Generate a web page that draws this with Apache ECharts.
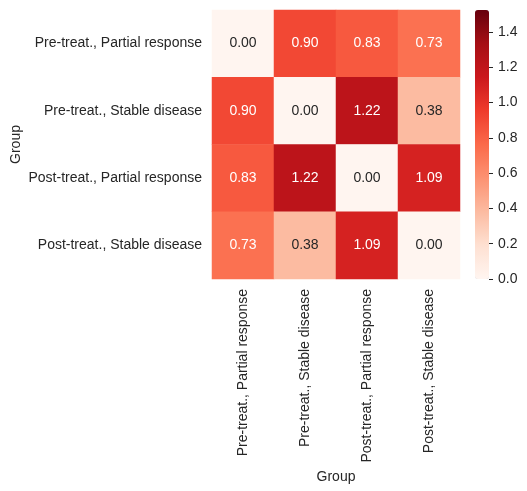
<!DOCTYPE html>
<html><head><meta charset="utf-8">
<script src="https://cdn.jsdelivr.net/npm/echarts@6/dist/echarts.min.js"></script>
<style>html,body{margin:0;padding:0;background:#fff}#c{width:527px;height:491px}</style>
</head><body><div id="c"></div>
<script>
const groups = ['Pre-treat., Partial response','Pre-treat., Stable disease','Post-treat., Partial response','Post-treat., Stable disease'];
const row0 = [0.00, 0.90, 0.83, 0.73];
const row1 = [0.90, 0.00, 1.22, 0.38];
const row2 = [0.83, 1.22, 0.00, 1.09];
const row3 = [0.73, 0.38, 1.09, 0.00];
const tickMax = 1.4, tickStep = 0.2;
const vmin = 0, vmax = 1.525;
const reds = ['#fff5f0','#fee0d2','#fcbba1','#fc9272','#fb6a4a','#ef3b2c','#cb181d','#a50f15','#67000d'];
const FONT = 'Liberation Sans, Arial, sans-serif';
const TXT = '#262626';

const rows = [row0,row1,row2,row3];
const data = [];
rows.forEach((r, yi) => r.forEach((v, xi) => {
  data.push({value:[xi, yi, v], label:{color: v > 0.6 ? '#ffffff' : TXT}});
}));

const barTop = 10, barH = 269;
const axH = barH * (tickMax - vmin) / (vmax - vmin);

const chart = echarts.init(document.getElementById('c'));
chart.setOption({
  animation:false,
  textStyle:{fontFamily:FONT},
  grid:[
    {left:212, top:10, width:248, height:269},
    {left:475, top:barTop + barH - axH, width:14, height:axH}
  ],
  xAxis:[
    {type:'category', data:groups, gridIndex:0,
     axisLine:{show:false}, axisTick:{show:false}, splitLine:{show:false},
     axisLabel:{rotate:90, color:TXT, fontSize:14, margin:10, fontFamily:FONT},
     name:'Group', nameLocation:'middle', nameGap:185, nameTextStyle:{color:TXT, fontSize:14, fontFamily:FONT}},
    {type:'category', gridIndex:1, show:false, data:['cb']}
  ],
  yAxis:[
    {type:'category', data:groups, gridIndex:0, inverse:true,
     axisLine:{show:false}, axisTick:{show:false}, splitLine:{show:false},
     axisLabel:{color:TXT, fontSize:14, margin:10, fontFamily:FONT},
     name:'Group', nameLocation:'middle', nameGap:189, nameRotate:90, nameTextStyle:{color:TXT, fontSize:14, fontFamily:FONT}},
    {type:'value', gridIndex:1, position:'right', min:vmin, max:tickMax, interval:tickStep,
     axisLine:{show:false, onZero:false}, splitLine:{show:false},
     axisTick:{show:true, inside:false, length:4, lineStyle:{color:TXT, width:1}},
     axisLabel:{color:TXT, fontSize:14, margin:9, fontFamily:FONT, formatter:v=>v.toFixed(1)}}
  ],
  visualMap:{
    type:'continuous', min:vmin, max:vmax, calculable:false, show:true,
    left:475, top:barTop, itemWidth:14, itemHeight:barH, padding:0, text:null,
    showLabel:false, hoverLink:false, seriesIndex:0, z:1,
    inRange:{color:reds}
  },
  series:[
    {type:'heatmap', xAxisIndex:0, yAxisIndex:0, data:data,
     label:{show:true, fontSize:14, fontFamily:FONT, formatter:p=>p.value[2].toFixed(2)},
     itemStyle:{borderWidth:0}, emphasis:{disabled:true}},
    {type:'scatter', xAxisIndex:1, yAxisIndex:1, data:[], silent:true}
  ]
});
</script>
</body></html>
